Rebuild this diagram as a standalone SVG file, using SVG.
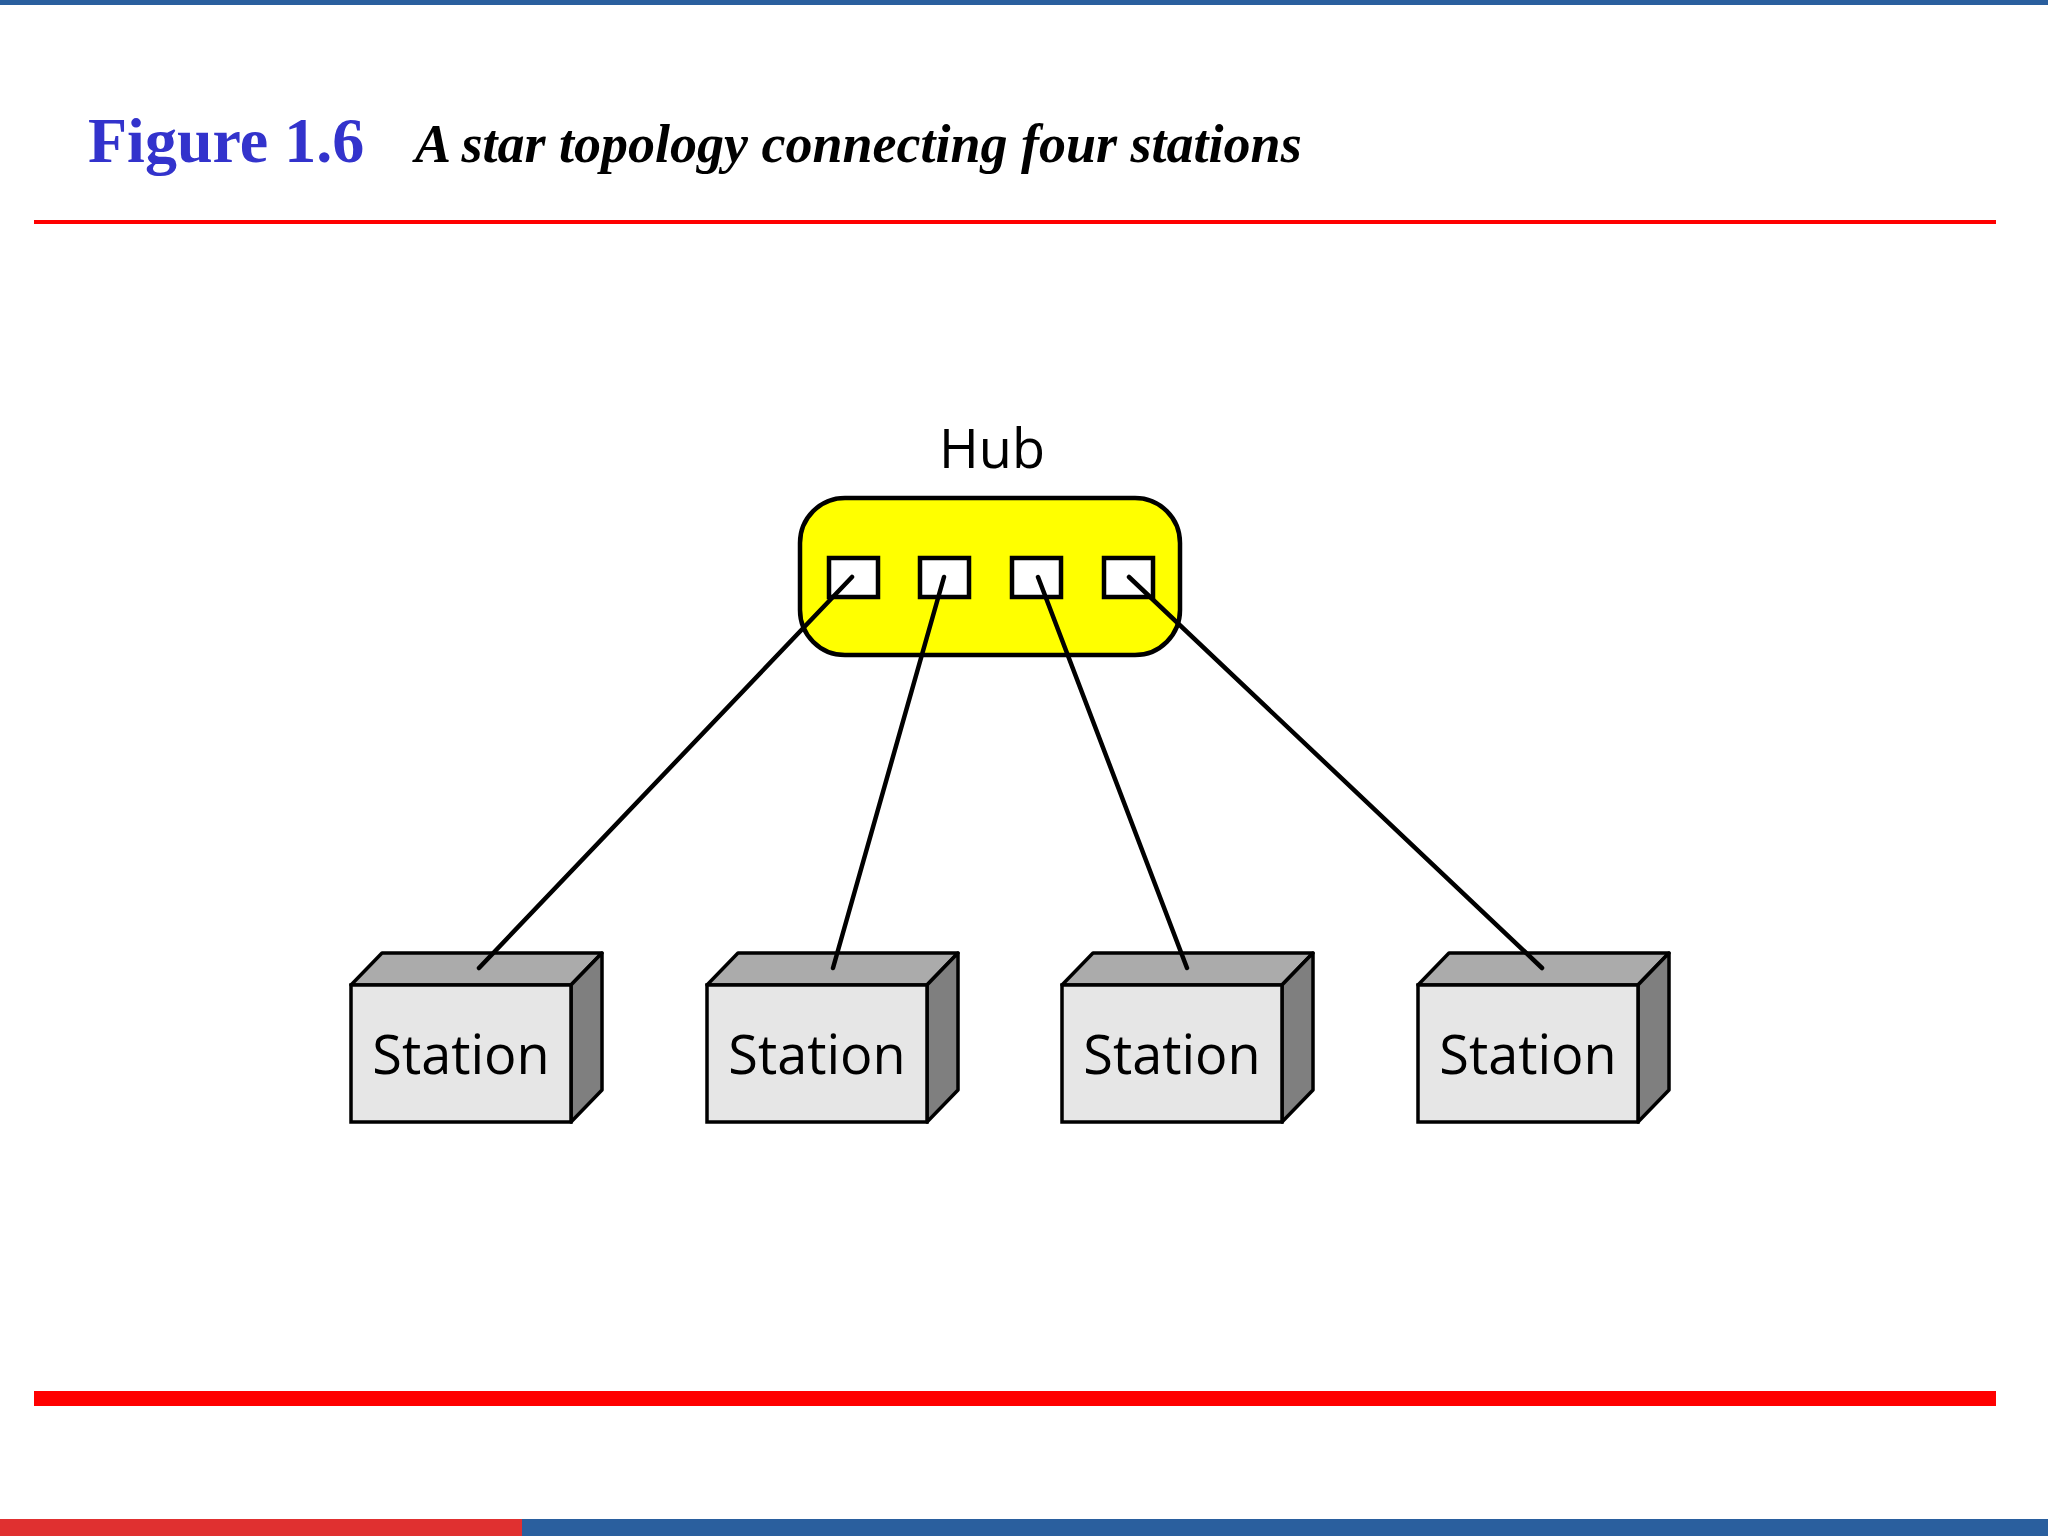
<svg xmlns="http://www.w3.org/2000/svg" width="2048" height="1536" viewBox="0 0 2048 1536">
<defs>
<style>
.front{fill:#e6e6e6;stroke:#000;stroke-width:3.5}
.top{fill:#ababab;stroke:#000;stroke-width:3.5;stroke-linejoin:round}
.side{fill:#7f7f7f;stroke:#000;stroke-width:3.5;stroke-linejoin:round}
.lbl{font-family:"Open Sans","DejaVu Sans",sans-serif;font-size:54px;fill:#000;text-anchor:middle}
.port{fill:#fff;stroke:#000;stroke-width:4.5}
.conn{stroke:#000;stroke-width:4.5;stroke-linecap:round}
</style>
<g id="station-shape">
<polygon class="top" points="0,32 31,0 251,0 220,32"/>
<polygon class="side" points="220,32 251,0 251,137 220,169"/>
<rect class="front" x="0" y="32" width="220" height="137"/>
</g>
</defs>
<rect width="2048" height="1536" fill="#fff"/>
<rect x="0" y="0" width="2048" height="5" fill="#2a5f9e"/>
<text x="88" y="162" font-family="Liberation Serif,serif" font-weight="bold" font-size="64" fill="#3333cc">Figure 1.6</text>
<text x="415" y="162" font-family="Liberation Serif,serif" font-weight="bold" font-style="italic" font-size="54" fill="#000">A star topology connecting four stations</text>
<rect x="34" y="220" width="1962" height="4" fill="#ff0000"/>
<rect x="34" y="1391" width="1962" height="15" fill="#ff0000"/>
<rect x="0" y="1519" width="522" height="17" fill="#e03030"/>
<rect x="522" y="1519" width="1526" height="17" fill="#2a5f9e"/>
<g id="hub">
<text class="lbl" x="992" y="468">Hub</text>
<rect x="800" y="498" width="380" height="157" rx="45" fill="#ffff00" stroke="#000" stroke-width="4.5"/>
<rect class="port" x="829" y="558" width="49" height="39"/>
<rect class="port" x="920" y="558" width="49" height="39"/>
<rect class="port" x="1012" y="558" width="49" height="39"/>
<rect class="port" x="1104" y="558" width="49" height="39"/>
</g>
<g id="station1"><use href="#station-shape" x="351" y="953"/><text class="lbl" x="461" y="1074">Station</text></g>
<g id="station2"><use href="#station-shape" x="707" y="953"/><text class="lbl" x="817" y="1074">Station</text></g>
<g id="station3"><use href="#station-shape" x="1062" y="953"/><text class="lbl" x="1172" y="1074">Station</text></g>
<g id="station4"><use href="#station-shape" x="1418" y="953"/><text class="lbl" x="1528" y="1074">Station</text></g>
<g id="connectors">
<line class="conn" x1="852" y1="577" x2="479" y2="968"/>
<line class="conn" x1="944" y1="577" x2="833" y2="968"/>
<line class="conn" x1="1038" y1="577" x2="1187" y2="968"/>
<line class="conn" x1="1129" y1="577" x2="1542" y2="968"/>
</g>
</svg>
